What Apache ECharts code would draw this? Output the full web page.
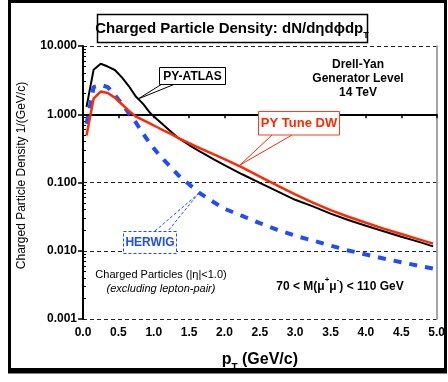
<!DOCTYPE html>
<html><head><meta charset="utf-8">
<script src="https://cdn.jsdelivr.net/npm/echarts@6/dist/echarts.min.js"></script>
<style>html,body{margin:0;padding:0;background:#fff}#c{width:448px;height:382px}</style>
</head><body><div id="c"></div>
<script>
// ---- data ----
const pT = [0.05,0.15,0.25,0.35,0.45,0.55,0.65,0.75,0.85,0.95,1.05,1.15,1.25,1.35,1.5,1.65,1.85,2.0,2.25,2.5,2.75,3.0,3.25,3.5,3.75,4.0,4.25,4.5,4.75,4.95];
const pyAtlas = [1.28,4.5,5.5,5.0,4.45,3.47,2.57,1.8,1.42,1.04,0.84,0.68,0.55,0.446,0.354,0.286,0.219,0.18,0.132,0.099,0.074,0.0558,0.0447,0.035,0.0282,0.0232,0.0193,0.016,0.0135,0.0116];
const pyTuneDW = [0.49,1.7,2.15,2.05,1.75,1.4,1.12,0.92,0.817,0.726,0.645,0.573,0.51,0.448,0.376,0.32,0.258,0.22,0.167,0.122,0.090,0.0668,0.0507,0.0394,0.0315,0.0257,0.0211,0.0176,0.0147,0.0127];
const herwig = [0.72,2.5,2.7,2.5,1.92,1.41,1.035,0.75,0.52,0.37,0.275,0.211,0.164,0.127,0.094,0.07,0.0513,0.0412,0.0324,0.0254,0.0203,0.0166,0.0141,0.0119,0.0101,0.0088,0.0077,0.0068,0.006,0.0055];

const pairs = ys => pT.map((x,i)=>[x, ys[i]]);
// minor tick positions (log10 of 2..9 x 10^k), for a linear helper axis
const minor = [];
for (let k=-3;k<1;k++) for (let m=2;m<=9;m++) minor.push(Math.log10(m*Math.pow(10,k)));

const F = 'Liberation Sans, Arial, sans-serif';
const chart = echarts.init(document.getElementById('c'), null, {renderer:'canvas'});
chart.setOption({
  backgroundColor:'#fff',
  animation:false,
  grid:{left:83, top:46, width:355, height:273},
  xAxis:{type:'value', min:0, max:5, interval:0.5,
    axisLine:{lineStyle:{color:'#000',width:2}},
    axisTick:{length:4, lineStyle:{color:'#000',width:1.5}},
    axisLabel:{color:'#000', fontFamily:F, fontWeight:'bold', fontSize:12, margin:8, formatter:v=>v.toFixed(1)},
    splitLine:{show:false},
    name:'{p|p}{s|T}{p| (GeV/c)}', nameLocation:'middle', nameGap:33,
    nameTextStyle:{rich:{p:{fontFamily:F,fontWeight:'bold',fontSize:16,color:'#000'},s:{fontFamily:F,fontWeight:'bold',fontSize:10,color:'#000',verticalAlign:'bottom',padding:[0,0,-5,0]}}}
  },
  yAxis:[
    {type:'log', logBase:10, min:0.001, max:10,
      axisLine:{show:true, lineStyle:{color:'#000',width:2}},
      axisTick:{length:5, lineStyle:{color:'#000',width:1.5}},
      axisLabel:{color:'#000', fontFamily:F, fontWeight:'bold', fontSize:12, margin:6, formatter:v=>Number(v).toFixed(3)},
      splitLine:{show:true, lineStyle:{color:'#222', type:[4,3], width:1}},
      name:'Charged Particle Density 1/(GeV/c)', nameLocation:'middle', nameGap:55,
      nameTextStyle:{fontFamily:F, fontSize:12, color:'#000', padding:[0,0,0,14]}
    },
    {type:'value', min:-3, max:1, position:'left',
      axisLine:{show:false}, axisLabel:{show:false}, splitLine:{show:false},
      axisTick:{show:true, inside:true, length:3, customValues:minor, lineStyle:{color:'#000',width:1}}
    },
    {type:'value', min:-3, max:1, position:'right',
      axisLine:{show:true, lineStyle:{color:'#888',width:1.5}}, axisLabel:{show:false}, splitLine:{show:false}, axisTick:{show:false}
    }
  ],
  series:[
    {name:'HERWIG', type:'line', data:pairs(herwig), showSymbol:false, symbol:'none',
      lineStyle:{color:'#1e4dff', width:4, type:[8,8], cap:'butt'}},
    {name:'PY-ATLAS', type:'line', data:pairs(pyAtlas), showSymbol:false, symbol:'none',
      lineStyle:{color:'#000', width:2}},
    {name:'PY Tune DW', type:'line', data:pairs(pyTuneDW), showSymbol:false, symbol:'none',
      lineStyle:{color:'#ff2a00', width:2.5}}
  ],
  graphic:[
    // outer frame
    {type:'rect', shape:{x:9.5,y:1.5,width:436,height:368}, style:{fill:null, stroke:'#000', lineWidth:3}, z:100},
    {type:'line', shape:{x1:8,y1:371,x2:447,y2:371}, style:{stroke:'#000', lineWidth:5}, z:100},
    // title box
    {type:'rect', shape:{x:97.5,y:14.5,width:270,height:28}, style:{fill:'#fff', stroke:'#000', lineWidth:1.5}, z:50},
    {type:'text', x:232, y:29, z:51, style:{text:'{a|Charged Particle Density: dN/dηdϕdp}{s|T}', align:'center', verticalAlign:'middle',
      rich:{a:{fontFamily:F,fontWeight:'bold',fontSize:15,fill:'#000'}, s:{fontFamily:F,fontWeight:'bold',fontSize:9,fill:'#000',verticalAlign:'bottom',padding:[0,0,-4,0]}}}},
    // PY-ATLAS callout
    {type:'polyline', shape:{points:[[162,84],[138,99],[175,84]]}, style:{stroke:'#000', lineWidth:1, fill:null}, z:40},
    {type:'rect', shape:{x:159.5,y:67.5,width:66,height:17}, style:{fill:'#fff', stroke:'#000', lineWidth:1}, z:41},
    {type:'text', x:192.5, y:76.5, z:42, style:{text:'PY-ATLAS', align:'center', verticalAlign:'middle', font:'bold 12px '+F, fill:'#000'}},
    // PY Tune DW callout
    {type:'polyline', shape:{points:[[272,135],[240,165],[292,135]]}, style:{stroke:'#ff2a00', lineWidth:1, fill:null}, z:40},
    {type:'rect', shape:{x:258.5,y:111.5,width:81,height:23.5}, style:{fill:'#fff', stroke:'#ff3a20', lineWidth:1}, z:41},
    {type:'text', x:299, y:123.5, z:42, style:{text:'PY Tune DW', align:'center', verticalAlign:'middle', font:'bold 13px '+F, fill:'#ff2a00'}},
    // HERWIG callout
    {type:'polyline', shape:{points:[[155,231],[198,194],[168,231]]}, style:{stroke:'#1e4dff', lineWidth:1, fill:null, lineDash:[3,2]}, z:40},
    {type:'rect', shape:{x:123.5,y:231.5,width:53,height:22}, style:{fill:'#fff', stroke:'#1e4dff', lineWidth:1, lineDash:[3,2]}, z:41},
    {type:'text', x:150, y:243, z:42, style:{text:'HERWIG', align:'center', verticalAlign:'middle', font:'bold 12px '+F, fill:'#1e4dff'}},
    // labels
    {type:'text', x:358, y:79, z:42, style:{text:'Drell-Yan\nGenerator Level\n14 TeV', align:'center', verticalAlign:'middle', lineHeight:14, font:'bold 12px '+F, fill:'#000'}},
    {type:'text', x:161, y:275, z:42, style:{text:'Charged Particles (|η|<1.0)', align:'center', verticalAlign:'middle', font:'11px '+F, fill:'#000'}},
    {type:'text', x:161, y:289, z:42, style:{text:'(excluding lepton-pair)', align:'center', verticalAlign:'middle', font:'italic 11px '+F, fill:'#000'}},
    {type:'text', x:340, y:287, z:42, style:{text:'{a|70 < M(μ}{s|+}{a|μ}{s|-}{a|) < 110 GeV}', align:'center', verticalAlign:'middle',
      rich:{a:{fontFamily:F,fontWeight:'bold',fontSize:12,fill:'#000'}, s:{fontFamily:F,fontWeight:'bold',fontSize:8,fill:'#000',verticalAlign:'top',padding:[-5,0,0,0]}}}}
  ]
});
</script></body></html>
